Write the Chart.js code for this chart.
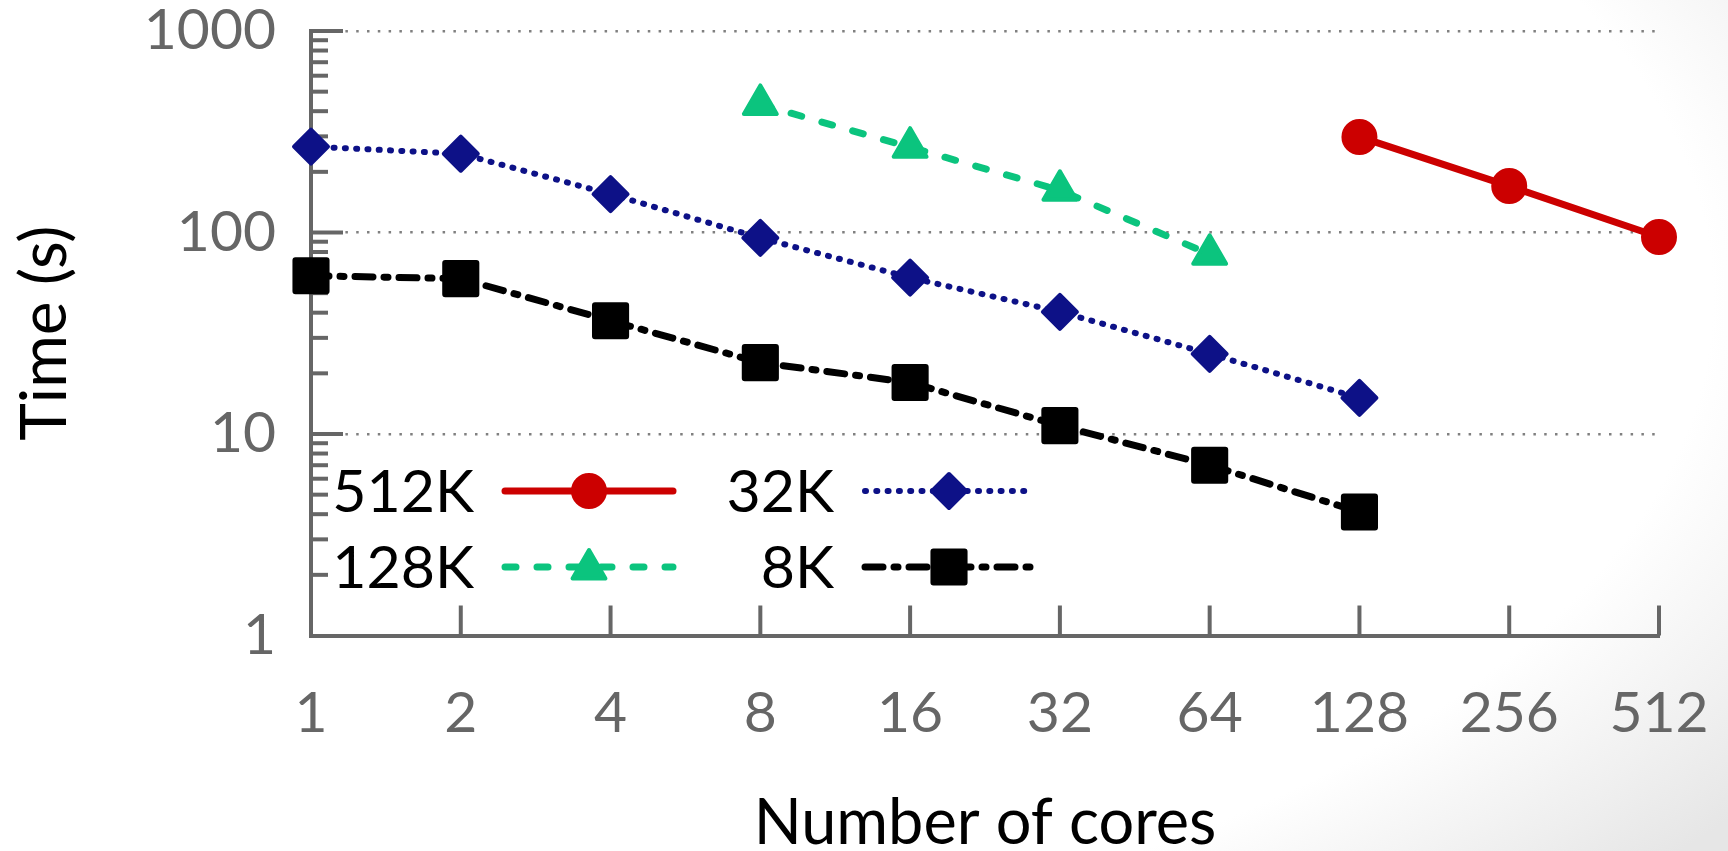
<!DOCTYPE html>
<html>
<head>
<meta charset="utf-8">
<script src="https://cdn.jsdelivr.net/npm/chart.js@4.4.0/dist/chart.umd.min.js"></script>
<style>
html,body{margin:0;padding:0;}
body{width:1728px;height:851px;overflow:hidden;background:radial-gradient(ellipse 95% 100% at 25% 35%, #ffffff 78%, #e6e6e6 100%);}
#wrap{position:relative;width:1728px;height:851px;}
</style>
</head>
<body>
<div id="wrap"><canvas id="c"></canvas></div>
<script>
// ---- data ----
const coreLabels = ['1','2','4','8','16','32','64','128','256','512'];
const seriesNames = ['512K','128K','32K','8K'];
const time512K = [null,null,null,null,null,null,null,298,170,95];
const time128K = [null,null,null,432,265,162,78,null,null,null];
const time32K  = [267,246,155,94,59.7,40.4,25,15.1,null,null];
const time8K   = [61,59,36.5,22.6,18,11,7.0,4.1,null,null];
const yTickValues = [1,2,3,4,5,6,7,8,9,10,20,30,40,50,60,70,80,90,100,200,300,400,500,600,700,800,900,1000];
const yLabeledValues = [1,10,100,1000];
const yTickLabels = ['1','10','100','1000'];
const xTitle = 'Number of cores';
const yTitle = 'Time (s)';

const FONT = 'Lato';
const AXIS_GREY = '#666666';

const common = {
  tension: 0, borderCapStyle: 'round', borderJoinStyle: 'round', clip: false, spanGaps: false
};
const datasets = [
  Object.assign({label: seriesNames[0], data: time512K, borderColor:'#CC0000', backgroundColor:'#CC0000',
    pointBackgroundColor:'#CC0000', pointBorderColor:'#CC0000', borderWidth:7, borderDash:[],
    pointStyle:'circle', pointRadius:16, pointHoverRadius:16, pointBorderWidth:4}, common),
  Object.assign({label: seriesNames[1], data: time128K, borderColor:'#0BC47E', backgroundColor:'#0BC47E',
    pointBackgroundColor:'#0BC47E', pointBorderColor:'#0BC47E', borderWidth:7, borderDash:[11,21],
    pointStyle:'triangle', pointRadius:19, pointHoverRadius:19, pointBorderWidth:4}, common),
  Object.assign({label: seriesNames[2], data: time32K, borderColor:'#0D1187', backgroundColor:'#0D1187',
    pointBackgroundColor:'#0D1187', pointBorderColor:'#0D1187', borderWidth:6, borderDash:[1,10.3],
    pointStyle:'rectRot', pointRadius:17, pointHoverRadius:17, pointBorderWidth:4}, common),
  Object.assign({label: seriesNames[3], data: time8K, borderColor:'#000000', backgroundColor:'#000000',
    pointBackgroundColor:'#000000', pointBorderColor:'#000000', borderWidth:7, borderDash:[18,11,4,11],
    pointStyle:'rect', pointRadius:22, pointHoverRadius:22, pointBorderWidth:6}, common)
];

// inward tick marks on both axes
const inwardTicks = {
  id: 'inwardTicks',
  beforeDatasetsDraw(chart) {
    const {ctx, chartArea, scales} = chart;
    const x = scales.x, y = scales.y;
    ctx.save();
    ctx.strokeStyle = AXIS_GREY;
    ctx.lineWidth = 4;
    ctx.lineCap = 'butt';
    x.ticks.forEach((t, i) => {
      if (i === 0) return;
      const px = x.getPixelForTick(i);
      ctx.beginPath();
      ctx.moveTo(px, chartArea.bottom);
      ctx.lineTo(px, chartArea.bottom - 30);
      ctx.stroke();
    });
    y.ticks.forEach(t => {
      if (t.value === 1) return;
      const py = y.getPixelForValue(t.value);
      const len = yLabeledValues.includes(t.value) ? 32 : 17;
      ctx.beginPath();
      ctx.moveTo(chartArea.left, py);
      ctx.lineTo(chartArea.left + len, py);
      ctx.stroke();
    });
    ctx.restore();
    ctx.lineJoin = 'round';
  }
};

// two-column legend inside the plot
const boxLegend = {
  id: 'boxLegend',
  afterDatasetsDraw(chart, args, opts) {
    const ctx = chart.ctx;
    opts.items.forEach(it => {
      const ds = chart.data.datasets[it.ds];
      const tx = opts.colTextRight[it.col];
      const ly = opts.rowLineY[it.row];
      ctx.save();
      ctx.font = opts.fontSize + 'px ' + FONT;
      ctx.fillStyle = '#000';
      ctx.textAlign = 'right';
      ctx.textBaseline = 'alphabetic';
      ctx.fillText(ds.label, tx, opts.rowBaseline[it.row]);
      const x0 = tx + opts.gap, x1 = x0 + opts.lineLen;
      ctx.strokeStyle = ds.borderColor;
      ctx.lineWidth = ds.borderWidth;
      ctx.setLineDash(ds.borderDash);
      ctx.lineCap = 'round';
      ctx.beginPath();
      ctx.moveTo(x0, ly);
      ctx.lineTo(x1, ly);
      ctx.stroke();
      ctx.setLineDash([]);
      ctx.lineJoin = 'round';
      ctx.fillStyle = ds.pointBackgroundColor;
      ctx.strokeStyle = ds.pointBorderColor;
      ctx.lineWidth = ds.pointBorderWidth;
      Chart.helpers.drawPoint(ctx, {pointStyle: ds.pointStyle, rotation: 0, radius: ds.pointRadius,
        borderWidth: ds.pointBorderWidth}, (x0 + x1) / 2, ly + (ds.pointStyle === 'triangle' ? 2 : 0));
      ctx.restore();
    });
  }
};

function build() {
  new Chart(document.getElementById('c'), {
    type: 'line',
    data: { labels: coreLabels, datasets: datasets },
    plugins: [inwardTicks, boxLegend],
    options: {
      responsive: true,
      maintainAspectRatio: false,
      animation: false,
      devicePixelRatio: 1,
      layout: { padding: { left: 0, right: 69, top: 31, bottom: 0 } },
      plugins: {
        legend: { display: false },
        tooltip: { enabled: false },
        boxLegend: {
          items: [{ds:0,col:0,row:0},{ds:2,col:1,row:0},{ds:1,col:0,row:1},{ds:3,col:1,row:1}],
          colTextRight: [474, 834],
          rowLineY: [491, 567],
          rowBaseline: [512, 588],
          gap: 31,
          lineLen: 168,
          fontSize: 59
        }
      },
      scales: {
        x: {
          type: 'category',
          offset: false,
          grid: { display: true, drawOnChartArea: false, drawTicks: false },
          border: { display: true, color: AXIS_GREY, width: 4 },
          ticks: { color: AXIS_GREY, font: { family: FONT, size: 57, lineHeight: 1 }, padding: 50,
            autoSkip: false, maxRotation: 0 },
          title: { display: true, text: xTitle, color: '#000',
            font: { family: FONT, size: 63, lineHeight: 0.8 }, padding: { top: 0, bottom: 2 } },
          afterFit(scale) {
            scale.height = 851 - 635.5;
            scale.paddingLeft = 0; scale.paddingRight = 0;
          }
        },
        y: {
          type: 'logarithmic',
          min: 1, max: 1000,
          afterBuildTicks(scale) { scale.ticks = yTickValues.map(v => ({ value: v })); },
          grid: {
            drawOnChartArea: true, drawTicks: false, lineWidth: 2.5,
            color(ctx) {
              const v = ctx.tick && ctx.tick.value;
              return (v !== 1 && yLabeledValues.includes(v)) ? '#808080' : 'rgba(0,0,0,0)';
            }
          },
          border: { display: true, color: AXIS_GREY, width: 4, dash: [2.5, 8.3] },
          ticks: {
            color: AXIS_GREY, font: { family: FONT, size: 57, lineHeight: 1 }, padding: 35, autoSkip: false,
            callback(value) {
              const idx = yLabeledValues.indexOf(value);
              return idx >= 0 ? yTickLabels[idx] : '';
            }
          },
          title: { display: true, text: yTitle, color: '#000',
            font: { family: FONT, size: 64, lineHeight: 0.8 }, padding: { top: 20, bottom: 0 } },
          afterFit(scale) {
            scale.width = 311;
            scale.paddingTop = 0; scale.paddingBottom = 0;
          }
        }
      }
    }
  });
}

if (document.fonts && document.fonts.load) {
  Promise.all([document.fonts.load('57px Lato'), document.fonts.load('64px Lato')])
    .then(build, build);
} else {
  build();
}
</script>
</body>
</html>
